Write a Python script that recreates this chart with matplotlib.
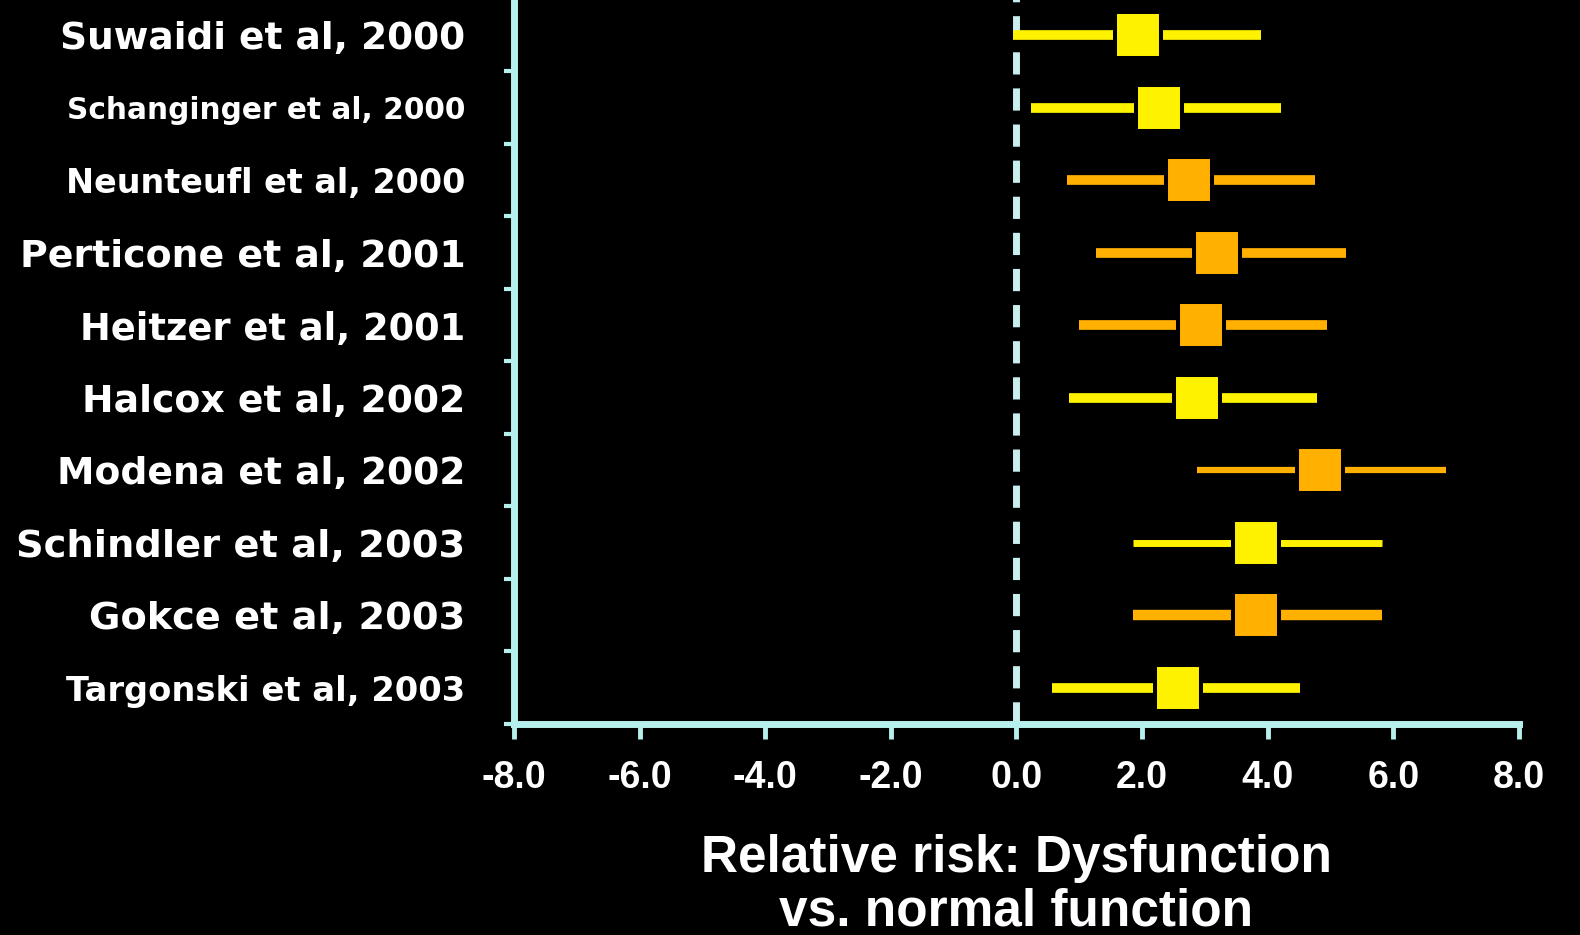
import matplotlib
matplotlib.use("Agg")
import matplotlib.pyplot as plt
import numpy as np

studies = ["Suwaidi et al, 2000", "Schanginger et al, 2000", "Neunteufl et al, 2000",
           "Perticone et al, 2001", "Heitzer et al, 2001", "Halcox et al, 2002",
           "Modena et al, 2002", "Schindler et al, 2003", "Gokce et al, 2003",
           "Targonski et al, 2003"]
rr = [1.94, 2.27, 2.75, 3.20, 2.94, 2.88, 4.84, 3.81, 3.81, 2.57]
ci_low = [-0.06, 0.24, 0.80, 1.27, 1.00, 0.84, 2.88, 1.86, 1.86, 0.56]
ci_high = [3.89, 4.21, 4.75, 5.24, 4.95, 4.79, 6.84, 5.82, 5.82, 4.51]
groups = ["y", "y", "o", "o", "o", "y", "o", "y", "o", "y"]
x_ticks = [-8, -6, -4, -2, 0, 2, 4, 6, 8]
x_ticklabels = ["-8.0", "-6.0", "-4.0", "-2.0", "0.0", "2.0", "4.0", "6.0", "8.0"]
xlabel = "Relative risk: Dysfunction\nvs. normal function"

label_sizes = [27, 21.3, 24, 27.3, 26.5, 27.2, 27.1, 27.6, 27.5, 24.3]
line_widths = [7, 7, 7, 7, 7, 7, 4.5, 5, 7.5, 7]
colors = {"y": "#FFF200", "o": "#FFB000"}
axis_color = "#B5F0EC"
dash_color = "#C8EEEE"

fig = plt.figure(figsize=(15.8, 9.35), dpi=100, facecolor="black")
ax = fig.add_axes([0.3253, 0.2257, 0.636, 0.7754])
ax.set_facecolor("black")

n = len(studies)
ypos = np.arange(n)

# reference line at zero
ax.axvline(0, color=dash_color, lw=5, dashes=(3.2, 2.0), zorder=1)

for i in range(n):
    c = colors[groups[i]]
    ax.plot([ci_low[i], ci_high[i]], [ypos[i], ypos[i]], color=c,
            lw=line_widths[i], solid_capstyle="butt", zorder=2)
    ax.plot([rr[i]], [ypos[i]], marker="s", markersize=33, color=c,
            markeredgecolor="black", markeredgewidth=2.9, zorder=3)

ax.set_xlim(-8, 8)
ax.set_ylim(n - 0.5, -0.5)

for side in ["top", "right"]:
    ax.spines[side].set_visible(False)
for side in ["left", "bottom"]:
    ax.spines[side].set_color(axis_color)
    ax.spines[side].set_linewidth(5)

ax.set_xticks(x_ticks)
ax.set_xticklabels(x_ticklabels, fontfamily="Liberation Sans", fontweight="bold",
                   fontsize=27, color="white")
ax.tick_params(axis="x", direction="out", length=11, width=3.5, color=axis_color, pad=15)

# major y ticks at row boundaries, labels at row centers
ax.set_yticks(np.arange(n) + 0.5)
ax.set_yticklabels([])
ax.tick_params(axis="y", which="major", direction="out", length=7, width=3, color=axis_color)
ax.set_yticks(ypos, minor=True)
ax.set_yticklabels(studies, minor=True)
ax.tick_params(axis="y", which="minor", length=0, pad=35)
for lbl, s in zip(ax.get_yticklabels(minor=True), label_sizes):
    lbl.set_fontsize(s)
    lbl.set_fontfamily("DejaVu Sans")
    lbl.set_fontweight("bold")
    lbl.set_color("white")

ax.set_xlabel(xlabel, fontfamily="Liberation Sans", fontweight="bold", fontsize=37,
              color="white", linespacing=1.12, labelpad=27)

fig.savefig("out.png", dpi=100, facecolor="black")
